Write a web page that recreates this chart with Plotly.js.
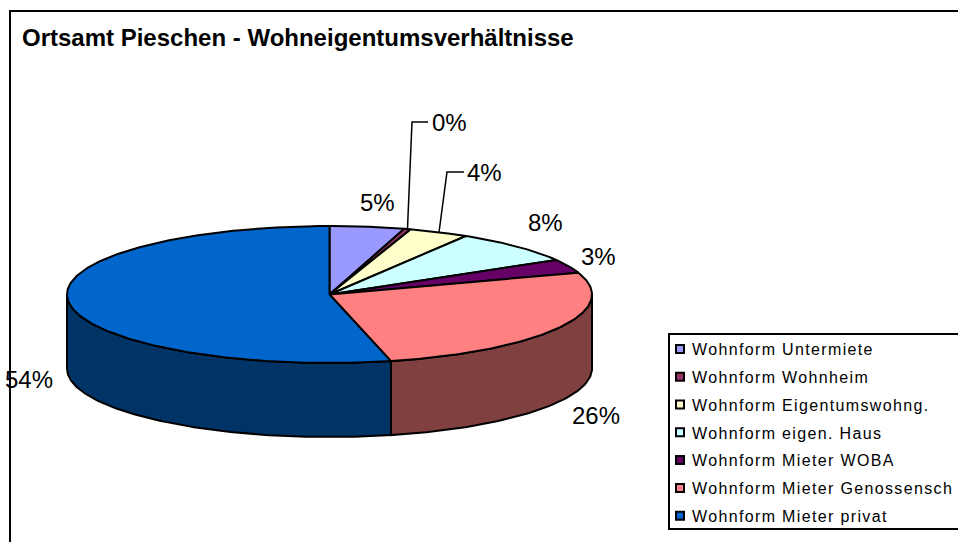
<!DOCTYPE html>
<html><head><meta charset="utf-8">
<script src="https://cdn.plot.ly/plotly-3.0.1.min.js"></script>
<style>
html,body{margin:0;padding:0;background:#fff;overflow:hidden}
.legend .legendtext{transform:translate(-18px,-3px);letter-spacing:1.35px}
.legend .legendsymbols{transform:translate(-10px,-3px)}
.legend .bg{height:195px;width:400px}
.legend .scrollbox{clip-path:none !important}
</style></head><body><div id="chart" style="width:958px;height:542px"></div>
<script>
var categories=["Wohnform Untermiete","Wohnform Wohnheim","Wohnform Eigentumswohng.","Wohnform eigen. Haus","Wohnform Mieter WOBA","Wohnform Mieter Genossensch","Wohnform Mieter privat"];
var values=[4.6,0.4,3.7,7.9,3.24,26.4,53.76];
var topColors=["#9999FF","#993366","#FFFFCC","#CCFFFF","#660066","#FF8080","#0066CC"];
var sideColors=["#4C4C80","#4C1933","#808066","#668080","#330033","#804040","#003366"];
var labelX=[377,449,484,545,598,596,29];
var labelY=[202,122,172,222,256,415,379];
var leaderBends={1:[[412,122],[428,122]],2:[[447,172],[464,172]]};
var cx=329.5,cy=294.5,rx=262.5,ry=68.5,depth=74;

function pt(t){var a=t*2*Math.PI/100;return [cx+rx*Math.sin(a),cy-ry*Math.cos(a)];}
function arc(a,b){var p=[],n=Math.max(2,Math.ceil((b-a)*4));for(var i=0;i<=n;i++)p.push(pt(a+(b-a)*i/n));return p;}
var traces=[],tops=[],cum=0,edges=[];
values.forEach(function(v,i){
  var a=cum,b=cum+v;cum=b;edges.push([a,b]);
  var s0=Math.max(a,25),s1=Math.min(b,75);
  if(s1>s0){
    var up=arc(s0,s1),down=up.slice().reverse().map(function(q){return [q[0],q[1]+depth];});
    var poly=up.concat(down);poly.push(up[0]);
    traces.push({type:"scatter",mode:"lines",x:poly.map(function(q){return q[0];}),y:poly.map(function(q){return q[1];}),fill:"toself",fillcolor:sideColors[i],line:{color:"#000",width:2},showlegend:false,hoverinfo:"skip"});
  }
  var w=[[cx,cy]].concat(arc(a,b));w.push([cx,cy]);
  tops.push({type:"scatter",mode:"lines",name:categories[i],x:w.map(function(q){return q[0];}),y:w.map(function(q){return q[1];}),fill:"toself",fillcolor:topColors[i],line:{color:"#000",width:2},showlegend:false,hoverinfo:"name"});
});
traces=traces.concat(tops);
Object.keys(leaderBends).forEach(function(k){
  var e=edges[k],m=pt((e[0]+e[1])/2),p=[m].concat(leaderBends[k]);
  traces.push({type:"scatter",mode:"lines",x:p.map(function(q){return q[0];}),y:p.map(function(q){return q[1];}),line:{color:"#000",width:1.5},showlegend:false,hoverinfo:"skip"});
});
categories.forEach(function(c,i){
  traces.push({type:"scatter",mode:"markers",name:c,legendgroup:"g"+i,x:[null],y:[null],marker:{symbol:"square",size:8,color:topColors[i],line:{color:"#000",width:2}},hoverinfo:"skip"});
});
var annotations=values.map(function(v,i){
  return {xref:"x",yref:"y",x:labelX[i],y:labelY[i],text:Math.round(v)+"%",showarrow:false,xanchor:"center",yanchor:"middle",font:{family:"Liberation Sans, Arial, sans-serif",size:24,color:"#000"}};
});
var layout={
  width:958,height:542,margin:{l:0,r:0,t:0,b:0,pad:0,autoexpand:false},
  paper_bgcolor:"#fff",plot_bgcolor:"#fff",
  title:{text:"<b>Ortsamt Pieschen - Wohneigentumsverhältnisse</b>",x:22/958,xanchor:"left",xref:"paper",y:1-38/542,yanchor:"middle",yref:"paper",font:{family:"Liberation Sans, Arial, sans-serif",size:24,color:"#000"}},
  xaxis:{range:[0,958],visible:false,fixedrange:true},
  yaxis:{range:[542,0],visible:false,fixedrange:true},
  showlegend:true,
  legend:{x:668/958,xanchor:"left",y:1-333/542,yanchor:"top",bgcolor:"#fff",bordercolor:"#000",borderwidth:2,tracegroupgap:4,traceorder:"grouped",entrywidth:400,entrywidthmode:"pixels",font:{family:"Liberation Sans, Arial, sans-serif",size:16,color:"#000"},itemclick:false,itemdoubleclick:false},
  shapes:[{type:"rect",xref:"x",yref:"y",x0:10,y0:11,x1:1000,y1:600,line:{color:"#000",width:2},fillcolor:"rgba(0,0,0,0)",layer:"below"}],
  annotations:annotations
};
Plotly.newPlot("chart",traces,layout,{displayModeBar:false});
</script></body></html>
